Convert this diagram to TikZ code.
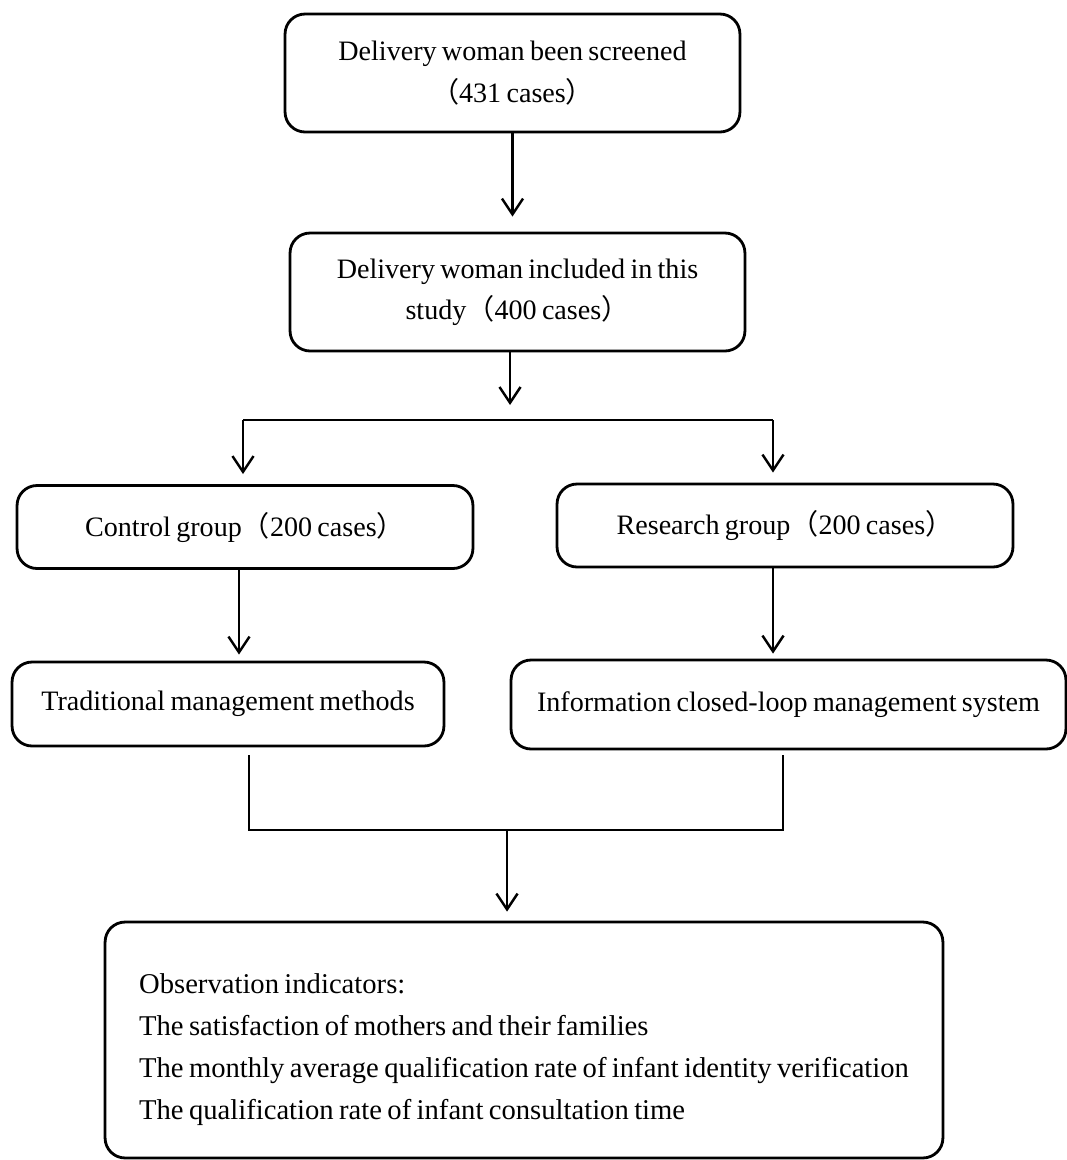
\documentclass[tikz,border=0pt]{standalone}
\usepackage{fontspec}
\setmainfont{Liberation Serif}[WordSpace=0.75]
\newfontfamily\cjk{Noto Sans CJK SC}
\usepackage{tikz}
\usetikzlibrary{arrows.meta}
\newcommand{\lpar}{{\cjk （}}
\newcommand{\rpar}{{\cjk ）}}

\tikzset{
  flowbox/.style={draw, line width=1.6pt, rounded corners=0.4cm, align=center,
    font=\fontsize{16}{23.5}\selectfont, inner sep=0pt},
  arr/.style={line width=1.4pt, -{Straight Barb[length=9pt,width=12pt,line width=1.4pt]}},
  link/.style={line width=1.4pt}
}

\begin{document}
\begin{tikzpicture}[x=0.02cm,y=-0.02cm]
\useasboundingbox (0,0) rectangle (1067,1160);
% boxes
\node[flowbox, minimum width=9.1cm, minimum height=2.36cm] (screen) at (512.5,73) {Delivery woman been screened\\\lpar 431 cases\rpar};
\node[flowbox, minimum width=9.1cm, minimum height=2.36cm] (incl) at (517.5,292) {Delivery woman included in this\\study\lpar 400 cases\rpar};
\node[flowbox, minimum width=9.12cm, minimum height=1.66cm] (ctrl) at (245,527) {Control group\lpar 200 cases\rpar};
\node[flowbox, minimum width=9.12cm, minimum height=1.66cm] (res) at (785,525.5) {Research group\lpar 200 cases\rpar};
\node[flowbox, minimum width=8.64cm, minimum height=1.68cm] (trad) at (228,704) {Traditional management methods};
\node[flowbox, minimum width=11.1cm, minimum height=1.78cm] (info) at (788.5,704.5) {Information closed-loop management system};
\node[flowbox, minimum width=16.76cm, minimum height=4.72cm, align=left, font=\fontsize{16.3}{23.8}\selectfont] (obs) at (524,1040) {\rule{0pt}{22pt}Observation indicators:\\The satisfaction of mothers and their families\\The monthly average qualification rate of infant identity verification\\The qualification rate of infant consultation time};
% joints
\coordinate (split) at (510,420);
\coordinate (splitL) at (243,420);
\coordinate (splitR) at (773,420);
\coordinate (joinL) at (249,755);
\coordinate (joinR) at (783,755);
\coordinate (join) at (507,830);
% connectors
\draw[arr, shorten >=15*0.02cm] (screen.south) -- (screen.south |- incl.north);
\draw[arr, shorten >=15*0.02cm] (incl.south -| split) -- (split);
\draw[link] (splitL) -- (splitR);
\draw[arr, shorten >=10*0.02cm] (splitL) -- (splitL |- ctrl.north);
\draw[arr, shorten >=10*0.02cm] (splitR) -- (splitR |- res.north);
\draw[arr, shorten >=6*0.02cm] ([xshift=-0.12cm]ctrl.south) -- ([xshift=-0.12cm]ctrl.south |- trad.north);
\draw[arr, shorten >=5*0.02cm] ([xshift=-0.24cm]res.south) -- ([xshift=-0.24cm]res.south |- info.north);
\draw[link] (joinL) |- (join) -| (joinR);
\draw[arr, shorten >=9*0.02cm] (join) -- (join |- obs.north);
\end{tikzpicture}
\end{document}
